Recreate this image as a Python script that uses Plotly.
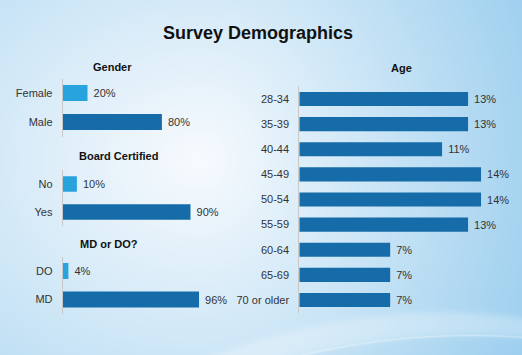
import base64
import struct
import zlib

import numpy as np
import plotly.graph_objects as go

# ---------------- data ----------------
gender_labels = ["Female", "Male"]
gender_values = [20, 80]

board_labels = ["No", "Yes"]
board_values = [10, 90]

degree_labels = ["DO", "MD"]
degree_values = [4, 96]

age_labels = ["28-34", "35-39", "40-44", "45-49", "50-54", "55-59",
              "60-64", "65-69", "70 or older"]
age_values = [13, 13, 11, 14, 14, 13, 7, 7, 7]

# ---------------- styling ----------------
W, H = 522, 355
LIGHT = "#29a3dd"
DARK = "#156ca8"
FONT = "Liberation Sans, Arial, sans-serif"
TXT = "#333333"


def background_png():
    yy, xx = np.mgrid[0:H, 0:W].astype(float)
    cx, cy = 200.0, 160.0
    sx = np.where(xx < cx, 480.0, 330.0)
    t = np.sqrt(((xx - cx) / sx) ** 2 + ((yy - cy) / 380.0) ** 2)
    t = np.clip(t, 0, 1.25)
    white = np.array([248, 251, 254], float)
    blue = np.array([165, 211, 240], float)
    img = white + (blue - white) * t[..., None]
    # soft swoosh at the bottom
    ytop = 312 + ((xx - 440) / 230.0) ** 2 * 45
    ybot = 335 + ((xx - 470) / 170.0) ** 2 * 20
    sig = lambda z: 1 / (1 + np.exp(-z))
    band = sig((yy - ytop) / 2.0) * sig((ybot - yy) / 2.0)
    img = img + (255 - img) * (0.28 * band)[..., None]
    line = np.exp(-((yy - ybot) / 0.9) ** 2) * 0.3
    img = img + (255 - img) * line[..., None]
    img = np.clip(img, 0, 255).astype(np.uint8)
    raw = b"".join(b"\x00" + row.tobytes() for row in img)

    def chunk(tag, data):
        return (struct.pack(">I", len(data)) + tag + data
                + struct.pack(">I", zlib.crc32(tag + data) & 0xFFFFFFFF))

    png = (b"\x89PNG\r\n\x1a\n"
           + chunk(b"IHDR", struct.pack(">IIBBBBB", W, H, 8, 2, 0, 0, 0))
           + chunk(b"IDAT", zlib.compress(raw, 9))
           + chunk(b"IEND", b""))
    return "data:image/png;base64," + base64.b64encode(png).decode()


def xd(a, b):
    return [a / W, b / W]


def yd(top, bottom):
    return [(H - bottom) / H, (H - top) / H]


fig = go.Figure()

panels = [
    ("x", "y", gender_labels, gender_values, [LIGHT, DARK]),
    ("x2", "y2", board_labels, board_values, [LIGHT, DARK]),
    ("x3", "y3", degree_labels, degree_values, [LIGHT, DARK]),
    ("x4", "y4", age_labels, age_values, [DARK] * len(age_values)),
]
for xa, ya, labels, vals, cols in panels:
    fig.add_trace(go.Bar(
        x=vals, y=labels, orientation="h", xaxis=xa, yaxis=ya,
        marker=dict(color=cols, line=dict(width=0)),
        texttemplate=" %{x}%", textposition="outside", cliponaxis=False,
        textfont=dict(family=FONT, size=11, color=TXT),
        hoverinfo="skip", showlegend=False,
    ))

yax_common = dict(
    type="category", showline=True, linecolor="#c8c8c8", linewidth=1,
    showgrid=False, zeroline=False, ticks="", ticklabelstandoff=7,
    tickfont=dict(family=FONT, size=11, color=TXT), fixedrange=True,
)
xax_common = dict(visible=False, fixedrange=True)

fig.update_layout(
    width=W, height=H,
    margin=dict(l=0, r=0, t=0, b=0),
    paper_bgcolor="#e8f3fb", plot_bgcolor="rgba(0,0,0,0)",
    bargap=0.44,
    images=[dict(source=background_png(), xref="paper", yref="paper",
                 x=0, y=1, sizex=1, sizey=1, sizing="stretch",
                 xanchor="left", yanchor="top", layer="below")],
    xaxis=dict(domain=xd(62.7, 186.7), range=[0, 100], anchor="y", **xax_common),
    yaxis=dict(domain=yd(78.5, 136.5), range=[1.5, -0.5], anchor="x", **yax_common),
    xaxis2=dict(domain=xd(62.7, 204.7), range=[0, 100], anchor="y2", **xax_common),
    yaxis2=dict(domain=yd(170, 226), range=[1.5, -0.5], anchor="x2", **yax_common),
    xaxis3=dict(domain=xd(62.7, 204.7), range=[0, 100], anchor="y3", **xax_common),
    yaxis3=dict(domain=yd(256.75, 313.75), range=[1.5, -0.5], anchor="x3", **yax_common),
    xaxis4=dict(domain=xd(299.3, 507), range=[0, 16], anchor="y4", **xax_common),
    yaxis4=dict(domain=yd(86.4, 312.6), range=[8.5, -0.5], anchor="x4", **yax_common),
)

headings = [
    ("Survey Demographics", 257.5, 33, 18),
    ("Gender", 112.5, 67, 11),
    ("Board Certified", 118, 156, 11),
    ("MD or DO?", 108.5, 244, 11),
    ("Age", 401, 68, 11),
]
for text, x, y, size in headings:
    fig.add_annotation(
        text=f"<b>{text}</b>", x=x / W, y=(H - y) / H, xref="paper", yref="paper",
        xanchor="center", yanchor="middle", showarrow=False,
        font=dict(family=FONT, size=size, color="#111111"),
    )

fig.write_html(
    "out.html",
    config={"displayModeBar": False, "staticPlot": True},
    post_script="document.body.style.margin='0px';"
                "document.body.style.overflow='hidden';",
)
